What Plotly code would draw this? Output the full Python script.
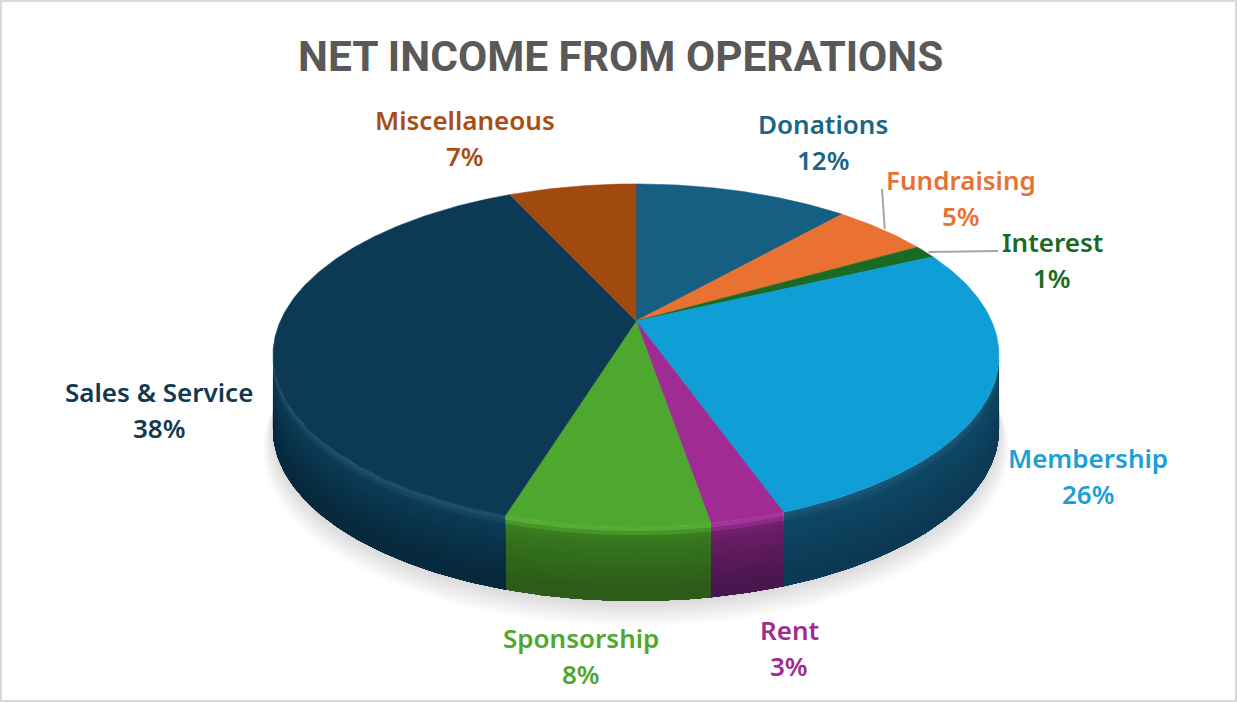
import numpy as np
import plotly.graph_objects as go

categories = ["Donations", "Fundraising", "Interest", "Membership", "Rent",
              "Sponsorship", "Sales & Service", "Miscellaneous"]
shares = [11.6, 5.2, 1.25, 26.49, 2.76, 7.5, 38.3, 6.9]

face_colors = ["#156082", "#E97132", "#196B24", "#0F9ED5", "#A02B93", "#4EA72E", "#0C3A54", "#A04A10"]
text_colors = ["#1A6688", "#E97132", "#196B24", "#1A9FD8", "#A02B93", "#4EA72E", "#12394F", "#A84E14"]
rim_colors = ["#1c7096", "#f08a50", "#2a8036", "#1a5675", "#a3359a", "#55ad33", "#1a4f69", "#b55a20"]
wall_top = ["#114f6c", "#c45c24", "#14561d", "#0f4763", "#6d1f68", "#38791f", "#0c3a54", "#853c0c"]
wall_bot = ["#0b3a52", "#9c4a1c", "#0f4016", "#0c3a55", "#4a1650", "#2c5c18", "#07293e", "#6a3009"]

TITLE = "NET INCOME FROM OPERATIONS"

CX, CY, DEPTH = 636.0, 321.0, 74.0
K, RX, RY = 0.201, 355.6, 164.6
LABEL_FONT = "Noto Sans"
TITLE_FONT = "Roboto"

label_pos = {
    "Donations": (823, 124), "Fundraising": (961, 180), "Interest": (1052, 242),
    "Membership": (1088, 458), "Rent": (789, 630), "Sponsorship": (581, 638),
    "Sales & Service": (159, 392), "Miscellaneous": (465, 120),
}


def rim(theta, grow=1.0, dx=0.0, dy=0.0):
    """Project a pie angle (radians, clockwise from 12 o'clock) on the tilted disc."""
    u, v = np.sin(theta), np.cos(theta)
    w = 1 + K * v
    return CX + dx + grow * RX * u / w, CY + dy - grow * RY * v / w


def hex2rgb(c):
    return np.array([int(c[i:i + 2], 16) for i in (1, 3, 5)], float)


def mix(a, b, t):
    r = hex2rgb(a) * (1 - t) + hex2rgb(b) * t
    return "rgb(%d,%d,%d)" % tuple(r)


def poly(xs, ys, color, width=0.6):
    return go.Scatter(x=list(xs), y=list(ys), mode="lines", fill="toself", fillcolor=color,
                      line=dict(width=width, color=color), hoverinfo="skip", showlegend=False)


fig = go.Figure()

# soft shadow under the disc
all_t = np.linspace(0, 2 * np.pi, 240)
for i in range(12):
    sx, sy = rim(all_t, grow=1.0 + 0.0025 * i, dx=0, dy=DEPTH + 2 + 1.6 * i)
    fig.add_trace(go.Scatter(x=sx, y=sy, mode="lines", fill="toself",
                             fillcolor="rgba(70,70,70,0.014)", line=dict(width=0),
                             hoverinfo="skip", showlegend=False))

total = sum(shares)
edges = np.concatenate([[0], np.cumsum(shares)]) / total * 2 * np.pi
vis_a = np.arccos(-K)
vis_b = 2 * np.pi - vis_a

# side wall: overlapping bands painted from the bottom edge up, so no seams show
N = 18
for i in range(len(categories)):
    a, b = max(edges[i], vis_a), min(edges[i + 1], vis_b)
    if b <= a:
        continue
    t = np.linspace(a, b, 80)
    xb, yb = rim(t, dy=DEPTH)
    for j in range(N):
        f0 = j / N
        x0, y0 = rim(t, dy=DEPTH * f0)
        if f0 < 0.12:
            col = mix(rim_colors[i], wall_top[i], f0 / 0.12)
        else:
            col = mix(wall_top[i], wall_bot[i], min(1, (f0 - 0.12) / 0.7))
        fig.add_trace(poly(np.r_[x0, xb[::-1]], np.r_[y0, yb[::-1]], col, width=0))

# top face
for i in range(len(categories)):
    t = np.linspace(edges[i], edges[i + 1], max(6, int(shares[i] * 6)))
    x, y = rim(t)
    fig.add_trace(poly(np.r_[CX, x, CX], np.r_[CY, y, CY], face_colors[i]))

# labels
ann = []
for i, name in enumerate(categories):
    lx, ly = label_pos[name]
    pct = 100 * shares[i] / total
    for txt, yy in ((name, ly), (f"{round(pct)}%", ly + 36)):
        ann.append(dict(x=lx, y=yy, text=txt, showarrow=False, xanchor="center", yanchor="middle",
                        font=dict(family=LABEL_FONT, size=26, color=text_colors[i], weight=600)))
ann.append(dict(x=620, y=56, text=TITLE, showarrow=False, xanchor="center", yanchor="middle",
                font=dict(family=TITLE_FONT, size=42.4, color="#595959", weight=700)))

# leader lines from the slice middle on the rim to the label
shapes = [dict(type="rect", xref="paper", yref="paper", x0=0, x1=1, y0=0, y1=1,
               line=dict(color="#d9d9d9", width=4), layer="above")]
for name, end in (("Fundraising", (882, 189)), ("Interest", (998, 251))):
    i = categories.index(name)
    sx, sy = rim((edges[i] + edges[i + 1]) / 2)
    shapes.append(dict(type="line", x0=float(sx) + 3, y0=float(sy), x1=end[0], y1=end[1],
                       line=dict(color="#a6a6a6", width=2)))

fig.update_layout(
    width=1237, height=702, margin=dict(l=0, r=0, t=0, b=0),
    paper_bgcolor="white", plot_bgcolor="white", showlegend=False,
    xaxis=dict(range=[0, 1237], visible=False, fixedrange=True),
    yaxis=dict(range=[702, 0], visible=False, fixedrange=True),
    annotations=ann, shapes=shapes,
)
fig.write_html("out.html", config=dict(displayModeBar=False),
               post_script="document.body.style.margin='0';document.body.style.overflow='hidden';")
